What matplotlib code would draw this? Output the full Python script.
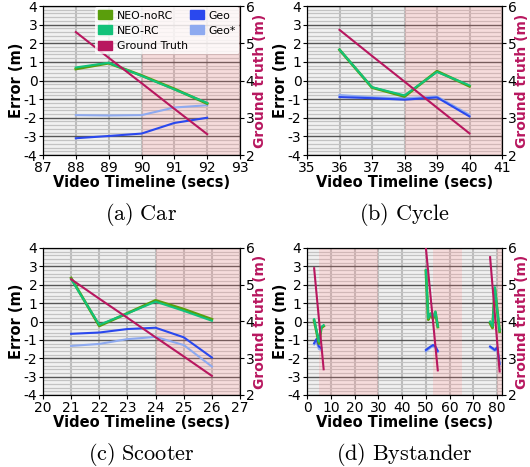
import numpy as np
import matplotlib
matplotlib.use('Agg')
import matplotlib.pyplot as plt
from matplotlib.patches import Patch
from matplotlib.ticker import MultipleLocator

plt.rcParams['mathtext.fontset'] = 'cm'

# colours
C_NORC = '#5a9e0c'
C_RC = '#12c27a'
C_GT = '#b8175f'
C_GEO = '#2a48ee'
C_GEOS = '#8eaaf0'

# (a) Car
car_t = [88, 89, 90, 91, 92]
car_norc = [0.62, 0.93, 0.27, -0.45, -1.24]
car_rc = [0.70, 0.95, 0.25, -0.48, -1.20]
car_gt = [5.30, 4.61, 3.93, 3.24, 2.56]
car_geo = [-3.10, -2.98, -2.85, -2.28, -2.00]
car_geos = [-1.86, -1.88, -1.86, -1.45, -1.33]

# (b) Cycle
cyc_t = [36, 37, 38, 39, 40]
cyc_norc = [1.65, -0.38, -0.86, 0.50, -0.31]
cyc_rc = [1.66, -0.36, -0.80, 0.46, -0.26]
cyc_gt = [5.36, 4.66, 3.97, 3.27, 2.58]
cyc_geo = [-0.89, -0.95, -1.03, -0.91, -1.93]
cyc_geos = [-0.78, -0.90, -0.95, -0.86, -1.84]

# (c) Scooter
sco_t = [21, 22, 23, 24, 25, 26]
sco_norc = [2.36, -0.24, 0.45, 1.15, 0.67, 0.12]
sco_rc = [2.30, -0.18, 0.44, 1.08, 0.58, 0.04]
sco_gt = [5.15, 4.62, 4.10, 3.57, 3.05, 2.52]
sco_geo = [-0.67, -0.60, -0.41, -0.34, -0.86, -1.96]
sco_geos = [-1.33, -1.22, -0.96, -0.84, -1.28, -2.45]

# (d) Bystander, three separate passes
bys_t = [[3, 4, 5, 6, 7], [50, 51, 52, 53, 54, 55], [77, 78, 79, 80, 81]]
bys_norc = [[0.05, -0.55, -1.20, -0.35, -0.25],
            [2.75, 0.10, 0.40, 0.15, 0.50, -0.30],
            [-0.10, -0.35, 1.80, 0.60, -0.55]]
bys_rc = [[0.12, -0.50, -1.10, -0.30, -0.20],
          [2.80, 0.18, 0.45, 0.20, 0.55, -0.27],
          [0.00, -0.27, 1.87, 0.65, -0.50]]
bys_gt = [[5.45, 4.76, 4.08, 3.39, 2.70],
          [6.00, 5.33, 4.66, 4.00, 3.33, 2.67],
          [5.75, 4.97, 4.20, 3.42, 2.64]]
bys_geo = [[-1.18, -0.95, -1.36, -1.45, None],
           [-1.55, -1.45, -1.36, -1.28, -1.36, -1.60],
           [-1.36, -1.45, -1.55, -1.40, -2.30]]
bys_geos = [[-1.25, -1.10, -1.50, -1.55, None],
            [-1.62, -1.52, -1.42, -1.33, -1.42, -1.66],
            [-1.42, -1.50, -1.60, -1.45, -2.35]]

panels = [
    dict(ax=(43, 6, 240, 155), xlim=(87, 93), xt=range(87, 94), split=[(87, 90, 'g'), (90, 93, 'p')],
         title='(a)\\ Car'),
    dict(ax=(307, 6, 502, 155), xlim=(35, 41), xt=range(35, 42), split=[(35, 38, 'g'), (38, 41, 'p')],
         title='(b)\\ Cycle'),
    dict(ax=(43, 248, 240, 395), xlim=(20, 27), xt=range(20, 28), split=[(20, 24, 'g'), (24, 27, 'p')],
         title='(c)\\ Scooter'),
    dict(ax=(307, 248, 502, 395), xlim=(0, 82), xt=range(0, 81, 10),
         split=[(0, 5, 'g'), (5, 30, 'p'), (30, 53, 'g'), (53, 65, 'p'), (65, 80, 'g'), (80, 82, 'p')],
         title='(d)\\ Bystander'),
]

W, H = 530, 467
fig = plt.figure(figsize=(W / 100, H / 100), dpi=100)

def make_ax(box):
    l, t, r, b = box
    return fig.add_axes([l / W, 1 - b / H, (r - l) / W, (b - t) / H])

axes = []
for p in panels:
    ax = make_ax(p['ax'])
    ax.set_xlim(*p['xlim'])
    ax.set_ylim(-4, 4)
    ax.set_xticks(list(p['xt']))
    ax.set_yticks(range(-4, 5))
    ax.set_yticklabels([str(v) for v in range(-4, 5)])
    ax.yaxis.set_minor_locator(MultipleLocator(0.2))
    ax.tick_params(axis='y', which='minor', length=0)
    ax.tick_params(labelsize=10, length=3, pad=1)
    ax.grid(axis='y', which='minor', color='#b4b4b4', lw=0.9, zorder=1)
    ax.grid(axis='y', which='major', color='black', lw=1.0, zorder=1)
    ax.grid(axis='x', which='major', color='#a8a8a8', lw=1.5, zorder=1)
    ax.set_axisbelow(True)
    for a, b, c in p['split']:
        if c == 'g':
            ax.axvspan(a, b, color='#dcdcdc', alpha=0.4, lw=0, zorder=1.5)
        else:
            ax.axvspan(a, b, color='#eebaba', alpha=0.5, lw=0, zorder=1.5)
    ax.set_xlabel('Video Timeline (secs)', fontsize=10.5, fontweight='bold', labelpad=0)
    ax.set_ylabel('Error (m)', fontsize=10.5, fontweight='bold', labelpad=0)
    ax2 = ax.twinx()
    ax2.set_ylim(2, 6)
    ax2.set_yticks(range(2, 7))
    ax2.tick_params(labelsize=10, length=3, pad=1)
    ax2.set_ylabel('Ground truth (m)', fontsize=10, fontweight='bold', color=C_GT, labelpad=-1)
    l, t, r, b = p['ax']
    fig.text(((l + r) / 2) / W, 1 - (b + 59) / H, '$\\mathrm{' + p['title'] + '}$',
             ha='center', va='center', fontsize=16)
    axes.append((ax, ax2))

def draw(ax, ax2, t, norc, rc, gt, geo, geos):
    ax.plot(t, geos, color=C_GEOS, lw=1.5, zorder=3)
    ax.plot(t, geo, color=C_GEO, lw=1.5, zorder=3)
    ax.plot(t, norc, color=C_NORC, lw=2.0, zorder=4)
    ax.plot(t, rc, color=C_RC, lw=1.5, zorder=4)
    ax2.plot(t, gt, color=C_GT, lw=1.5, zorder=5)

draw(*axes[0], car_t, car_norc, car_rc, car_gt, car_geo, car_geos)
draw(*axes[1], cyc_t, cyc_norc, cyc_rc, cyc_gt, cyc_geo, cyc_geos)
draw(*axes[2], sco_t, sco_norc, sco_rc, sco_gt, sco_geo, sco_geos)
for i in range(3):
    geo = [np.nan if v is None else v for v in bys_geo[i]]
    geos = [np.nan if v is None else v for v in bys_geos[i]]
    draw(*axes[3], bys_t[i], bys_norc[i], bys_rc[i], bys_gt[i], geo, geos)

handles = [Patch(color=C_NORC, label='NEO-noRC'), Patch(color=C_RC, label='NEO-RC'),
           Patch(color=C_GT, label='Ground Truth'), Patch(color=C_GEO, label='Geo'),
           Patch(color=C_GEOS, label='Geo*')]
leg = axes[0][1].legend(handles=handles, ncol=2, loc='upper right', fontsize=7.8,
                        frameon=True, framealpha=0.8, edgecolor='white', borderpad=0.3,
                        handlelength=1.25, handleheight=0.9, handletextpad=0.45,
                        columnspacing=0.2, labelspacing=0.45, borderaxespad=0.1)
leg.get_frame().set_linewidth(0)

fig.savefig('out.png', dpi=100)
